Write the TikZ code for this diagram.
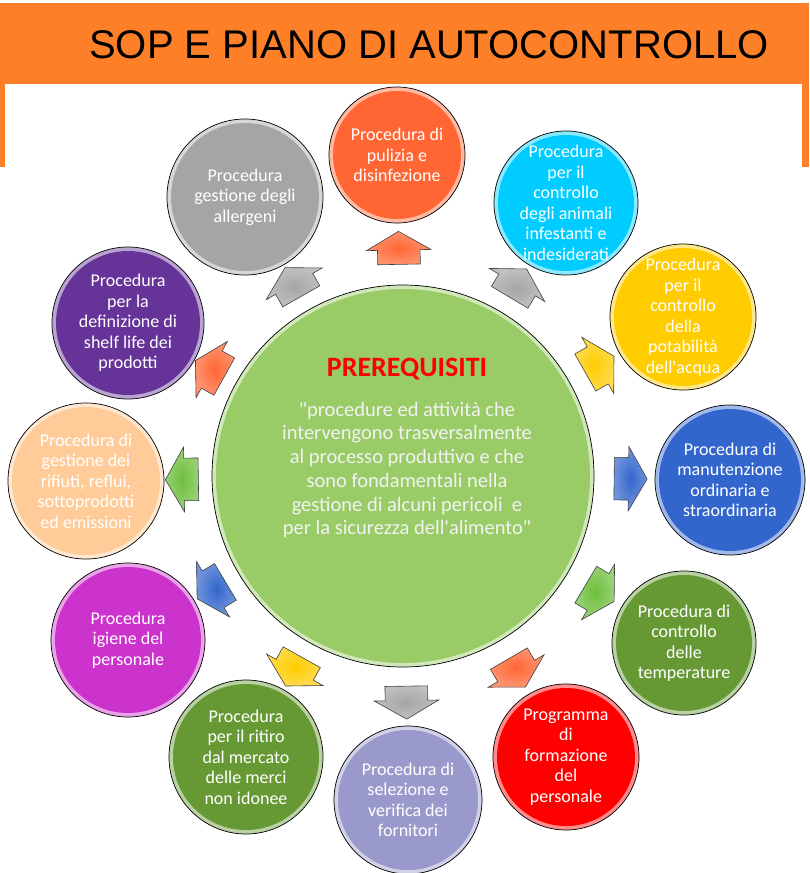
\documentclass[tikz,border=0pt]{standalone}
\usepackage{fontspec}
\setmainfont{Carlito}
\newfontfamily\titlefont{Liberation Sans}
\usetikzlibrary{shapes.arrows,calc}

\definecolor{bandorange}{RGB}{253,128,40}
\definecolor{cOrange}{RGB}{255,102,51}
\definecolor{cGrey}{RGB}{165,165,168}
\definecolor{cCyan}{RGB}{0,204,255}
\definecolor{cYellow}{RGB}{255,204,0}
\definecolor{cBlue}{RGB}{51,102,204}
\definecolor{cOlive}{RGB}{102,153,51}
\definecolor{cRed}{RGB}{255,0,0}
\definecolor{cLavender}{RGB}{153,153,204}
\definecolor{cMagenta}{RGB}{204,51,204}
\definecolor{cPeach}{RGB}{255,204,153}
\definecolor{cPurple}{RGB}{102,51,153}
\definecolor{cGreen}{RGB}{153,204,102}
\definecolor{cArrowGreen}{RGB}{110,190,60}

\begin{document}
\begin{tikzpicture}[
        x=1pt, y=-1pt,
        bubble/.style={circle, draw=black, line width=0.7pt, inner sep=0pt, fill=#1!45!white,
            path picture={\fill[#1] let \p1=($(path picture bounding box.east)-(path picture bounding box.center)$)
                in (path picture bounding box.center) circle[radius=\x1-4pt];}},
        txt/.style={align=center, text=white, font=\fontsize{18}{20.5}\selectfont},
        blockarrow/.style={single arrow, draw=black!75, line width=0.6pt, inner color=#1, outer color=#1!70!white,
            minimum height=33pt, inner xsep=0pt, inner ysep=21pt, single arrow head extend=11pt,
            single arrow tip angle=120, sloped, allow upside down}
    ]
        \useasboundingbox (0,0) rectangle (809,873);

        % Header
        \fill[bandorange] (0,3) rectangle (809,84);
        \fill[bandorange] (0,84) rectangle (5,167);
        \fill[bandorange] (802,84) rectangle (809,167);
        \node[font=\titlefont\fontsize{40}{48}\selectfont] (title) at (429,45) {SOP E PIANO DI AUTOCONTROLLO};

        % Centre
        \node[bubble=cGreen, minimum size=382pt] (pre) at (403,476) {};
        \node[text=cRed, font=\bfseries\fontsize{28}{32}\selectfont] (pre-title) at (407,369) {PREREQUISITI};
        \node[align=center, text=white!95!black, font=\fontsize{20.5}{23.7}\selectfont] (pre-txt) at (407,470)
            {\textquotedbl procedure ed attività che\\intervengono trasversalmente\\al processo produttivo e che\\sono fondamentali nella\\gestione di alcuni pericoli\ \ e\\per la sicurezza dell\textquotesingle alimento\textquotedbl};

        % Procedures
        \node[bubble=cOrange, minimum size=136pt] (pulizia) at (397,155) {};
        \node[txt] (pulizia-txt) at (pulizia) {Procedura di\\pulizia e\\disinfezione};

        \node[bubble=cCyan, minimum size=144pt] (infestanti) at (566,203) {};
        \node[txt] (infestanti-txt) at (infestanti) {Procedura\\per il\\controllo\\degli animali\\infestanti e\\indesiderati};

        \node[bubble=cYellow, minimum size=146pt] (acqua) at (683,317) {};
        \node[txt] (acqua-txt) at (acqua) {Procedura\\per il\\controllo\\della\\potabilità\\dell\textquotesingle acqua};

        \node[bubble=cBlue, minimum size=150pt] (manutenzione) at (730,480) {};
        \node[txt] (manutenzione-txt) at (manutenzione) {Procedura di\\manutenzione\\ordinaria e\\straordinaria};

        \node[bubble=cOlive, minimum size=144pt] (temperature) at (684,643) {};
        \node[txt] (temperature-txt) at (temperature) {Procedura di\\controllo\\delle\\temperature};

        \node[bubble=cRed, minimum size=146pt] (formazione) at (566,757) {};
        \node[txt] (formazione-txt) at (formazione) {Programma\\di\\formazione\\del\\personale};

        \node[bubble=cLavender, minimum size=148pt] (fornitori) at (408,800) {};
        \node[txt] (fornitori-txt) at (fornitori) {Procedura di\\selezione e\\verifica dei\\fornitori};

        \node[bubble=cOlive, minimum size=154pt] (ritiro) at (246,757) {};
        \node[txt] (ritiro-txt) at (ritiro) {Procedura\\per il ritiro\\dal mercato\\delle merci\\non idonee};

        \node[bubble=cMagenta, minimum size=154pt] (igiene) at (128,640) {};
        \node[txt] (igiene-txt) at (igiene) {Procedura\\igiene del\\personale};

        \node[bubble=cPeach, minimum size=156pt] (rifiuti) at (86,481) {};
        \node[txt] (rifiuti-txt) at (rifiuti) {Procedura di\\gestione dei\\rifiuti, reflui,\\sottoprodotti\\ed emissioni};

        \node[bubble=cPurple, minimum size=152pt] (shelflife) at (128,323) {};
        \node[txt] (shelflife-txt) at (shelflife) {Procedura\\per la\\definizione di\\shelf life dei\\prodotti};

        \node[bubble=cGrey, minimum size=156pt] (allergeni) at (245,197) {};
        \node[txt] (allergeni-txt) at (allergeni) {Procedura\\gestione degli\\allergeni};

        % Arrows
        \path (pre) -- (pulizia) node[midway, blockarrow=cOrange] (a-pulizia) {};
        \path (pre) -- (infestanti) node[midway, blockarrow=cGrey] (a-infestanti) {};
        \path (pre) -- (acqua) node[midway, blockarrow=cYellow] (a-acqua) {};
        \path (pre) -- (manutenzione) node[midway, blockarrow=cBlue] (a-manutenzione) {};
        \path (pre) -- (temperature) node[midway, blockarrow=cArrowGreen] (a-temperature) {};
        \path (pre) -- (formazione) node[midway, blockarrow=cOrange] (a-formazione) {};
        \path (pre) -- (fornitori) node[midway, blockarrow=cGrey] (a-fornitori) {};
        \path (pre) -- (ritiro) node[midway, blockarrow=cYellow] (a-ritiro) {};
        \path (pre) -- (igiene) node[midway, blockarrow=cBlue] (a-igiene) {};
        \path (pre) -- (rifiuti) node[midway, blockarrow=cArrowGreen] (a-rifiuti) {};
        \path (pre) -- (shelflife) node[midway, blockarrow=cOrange] (a-shelflife) {};
        \path (pre) -- (allergeni) node[midway, blockarrow=cGrey] (a-allergeni) {};

    \end{tikzpicture}
\end{document}
